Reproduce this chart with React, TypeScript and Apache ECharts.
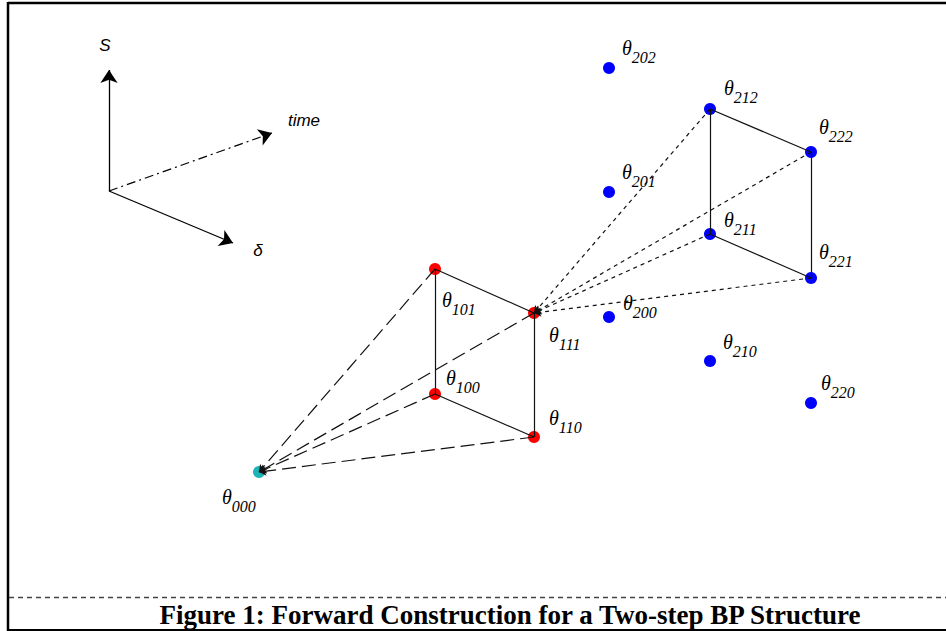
import React, { useEffect, useRef } from 'react';
import * as echarts from 'echarts';

// Node names (subscripts of theta) and their read positions in the figure's plane units
const nodeNames = ['000', '100', '101', '110', '111', '200', '201', '202', '210', '211', '212', '220', '221', '222'];
const nodeX = [259, 435, 435, 534, 534, 609, 609, 609, 710, 710, 710, 811, 811, 811];
const nodeY = [472, 394, 269, 437, 313, 317, 192, 68, 361, 234, 109, 403, 278, 152];
const nodeStep = [0, 1, 1, 1, 1, 2, 2, 2, 2, 2, 2, 2, 2, 2];

// Edges
const solidEdges = [
  ['101', '100'], ['101', '111'], ['111', '110'], ['100', '110'],
  ['212', '211'], ['212', '222'], ['222', '221'], ['211', '221'],
];
// arrows point back to the parent node
const longDashEdges = [['101', '000'], ['111', '000'], ['100', '000'], ['110', '000']];
const shortDashEdges = [['212', '111'], ['222', '111'], ['211', '111'], ['221', '111']];

// Reference axes sketch (origin and tips)
const axisOrigin = [109, 191];
const axisTips = { S: [109, 70], time: [272, 133], delta: [233, 243] };

const caption = 'Figure 1: Forward Construction for a Two-step BP Structure';

// Layout only: theta-glyph centre relative to each node
const labelOffsets: Record<string, number[]> = {
  '000': [-31, 25], '100': [17, -16], '101': [13, 31], '110': [21, -19], '111': [21, 22],
  '200': [20, -14], '201': [19, -20], '202': [19, -20], '210': [19, -19], '211': [20, -14],
  '212': [20, -21], '220': [16, -20], '221': [14, -26], '222': [14, -25],
};
const stepColors = ['#1cb4b4', '#ff0000', '#0000ff'];

export default function App() {
  const ref = useRef<HTMLDivElement>(null);
  useEffect(() => {
    document.body.style.margin = '0';
    if (!ref.current) return;
    const chart = echarts.init(ref.current, null, { renderer: 'svg' });
    const pos = (n: string) => {
      const i = nodeNames.indexOf(n);
      return [nodeX[i], nodeY[i]];
    };
    const serif = 'Liberation Serif, Times New Roman, serif';
    const sans = 'Liberation Sans, Arial, sans-serif';

    const scatterData = nodeNames.map((n, i) => {
      const o = labelOffsets[n];
      return {
        name: n,
        value: [nodeX[i], nodeY[i]],
        itemStyle: { color: stepColors[nodeStep[i]], opacity: 1 },
        label: { offset: [o[0] - 6, o[1] - 10] },
      };
    });

    const edgeLines = (edges: string[][]) => edges.map((e) => ({ coords: [pos(e[0]), pos(e[1])] }));

    chart.setOption({
      animation: false,
      backgroundColor: '#ffffff',
      grid: { left: 0, right: 0, top: 0, bottom: 0 },
      xAxis: { type: 'value', min: 0, max: 946, show: false },
      yAxis: { type: 'value', min: 0, max: 631, inverse: true, show: false },
      series: [
        {
          type: 'scatter',
          z: 2,
          symbolSize: 12,
          data: scatterData,
          label: {
            show: true,
            position: 'inside',
            align: 'left',
            verticalAlign: 'top',
            formatter: (p: any) => `{t|θ}{s|${p.name}}`,
            rich: {
              t: { fontFamily: serif, fontStyle: 'italic', fontSize: 20, color: '#000', lineHeight: 20, verticalAlign: 'top' },
              s: { fontFamily: serif, fontStyle: 'italic', fontSize: 16, color: '#000', lineHeight: 16, padding: [11, 0, 0, 0], verticalAlign: 'top' },
            },
          },
        },
        {
          type: 'lines',
          coordinateSystem: 'cartesian2d',
          z: 3,
          symbol: ['none', 'none'],
          lineStyle: { color: '#111', width: 1.2, type: 'solid', opacity: 1 },
          data: edgeLines(solidEdges),
        },
        {
          type: 'lines',
          coordinateSystem: 'cartesian2d',
          z: 3,
          symbol: ['none', 'arrow'],
          symbolSize: [0, 7],
          lineStyle: { color: '#111', width: 1.2, type: [14, 6], opacity: 1 },
          data: edgeLines(longDashEdges),
        },
        {
          type: 'lines',
          coordinateSystem: 'cartesian2d',
          z: 3,
          symbol: ['none', 'arrow'],
          symbolSize: [0, 7],
          lineStyle: { color: '#111', width: 1.2, type: [4, 4], opacity: 1 },
          data: edgeLines(shortDashEdges),
        },
        {
          type: 'lines',
          coordinateSystem: 'cartesian2d',
          z: 3,
          symbol: ['none', 'arrow'],
          symbolSize: [0, 13],
          lineStyle: { color: '#000', width: 1.3, type: 'solid', opacity: 1 },
          data: [{ coords: [axisOrigin, axisTips.S] }, { coords: [axisOrigin, axisTips.delta] }],
        },
        {
          type: 'lines',
          coordinateSystem: 'cartesian2d',
          z: 3,
          symbol: ['none', 'arrow'],
          symbolSize: [0, 13],
          lineStyle: { color: '#000', width: 1.2, type: [9, 4, 2, 4], opacity: 1 },
          data: [{ coords: [axisOrigin, axisTips.time] }],
        },
      ],
      graphic: [
        { type: 'line', shape: { x1: 8, y1: 3, x2: 946, y2: 3 }, style: { stroke: '#000', lineWidth: 2.5 } },
        { type: 'line', shape: { x1: 8, y1: 2, x2: 8, y2: 631 }, style: { stroke: '#000', lineWidth: 2.5 } },
        { type: 'line', shape: { x1: 8, y1: 630, x2: 946, y2: 630 }, style: { stroke: '#000', lineWidth: 2 } },
        { type: 'line', shape: { x1: 9, y1: 597.5, x2: 946, y2: 597.5 }, style: { stroke: '#444', lineWidth: 1.5, lineDash: [5, 4] } },
        {
          type: 'text', x: 510, y: 615,
          style: { text: caption, font: `bold 27px ${serif}`, fill: '#000', align: 'center', verticalAlign: 'middle' },
        },
        { type: 'text', x: 105, y: 45, style: { text: 'S', font: `italic 17px ${sans}`, fill: '#000', align: 'center', verticalAlign: 'middle' } },
        { type: 'text', x: 304, y: 120, style: { text: 'time', font: `italic 17px ${sans}`, fill: '#000', align: 'center', verticalAlign: 'middle' } },
        { type: 'text', x: 258, y: 250, style: { text: 'δ', font: `italic 17px ${sans}`, fill: '#000', align: 'center', verticalAlign: 'middle' } },
      ],
    });
    return () => chart.dispose();
  }, []);
  return <div ref={ref} style={{ width: 946, height: 631 }} />;
}
